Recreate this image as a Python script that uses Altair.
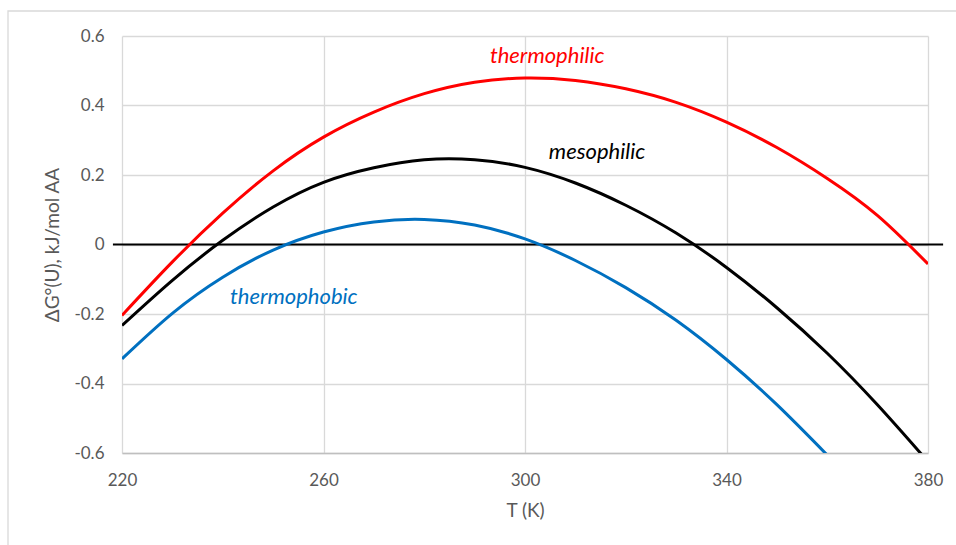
import altair as alt
import pandas as pd

# ---- data ----
T = [220, 230, 240, 250, 260, 270, 280, 290, 300, 310, 320, 330, 340, 350, 360, 370, 380]
thermophilic = [-0.204, -0.050, 0.090, 0.212, 0.309, 0.381, 0.434, 0.467, 0.479, 0.472,
                0.448, 0.409, 0.352, 0.279, 0.190, 0.083, -0.056]
mesophilic = [-0.233, -0.103, 0.012, 0.108, 0.179, 0.221, 0.244, 0.244, 0.222, 0.177,
              0.113, 0.033, -0.066, -0.182, -0.313, -0.462, -0.625]
T_phobic = [220, 230, 240, 250, 260, 270, 280, 290, 300, 310, 320, 330, 340, 350, 360]
thermophobic = [-0.329, -0.198, -0.094, -0.016, 0.036, 0.065, 0.072, 0.056, 0.016, -0.046,
                -0.124, -0.218, -0.331, -0.461, -0.606]

zero_T = [218.2, 383.0]
zero_G = [0.0, 0.0]

label_text = ["thermophilic", "mesophilic", "thermophobic"]
label_T = [304.4, 314.3, 254.1]
label_G = [0.521, 0.245, -0.170]

series_names = ["thermophilic", "mesophilic", "thermophobic"]
series_colors = ["#ff0000", "#000000", "#0070c0"]

x_ticks = [220, 260, 300, 340, 380]
y_ticks = [-0.6, -0.4, -0.2, 0, 0.2, 0.4, 0.6]

# ---- tables ----
rows = []
for t, g in zip(T, thermophilic):
    rows.append({"series": "thermophilic", "T": t, "G": g})
for t, g in zip(T, mesophilic):
    rows.append({"series": "mesophilic", "T": t, "G": g})
for t, g in zip(T_phobic, thermophobic):
    rows.append({"series": "thermophobic", "T": t, "G": g})
df = pd.DataFrame(rows)
zero_df = pd.DataFrame({"T": zero_T, "G": zero_G})
lab_df = pd.DataFrame({"series": label_text, "T": label_T, "G": label_G})

FONT = "Lato"
GREY = "#595959"

xscale = alt.Scale(domain=[220, 380], nice=False, zero=False)
yscale = alt.Scale(domain=[-0.6, 0.6], nice=False, zero=False)
cscale = alt.Scale(domain=series_names, range=series_colors)

xaxis = alt.Axis(values=x_ticks, grid=True, gridColor="#d9d9d9", gridWidth=1.3,
                 ticks=False, domainColor="#bfbfbf", domainWidth=1.3, labelFlush=False,
                 labelFont=FONT, labelFontSize=17, labelColor=GREY, labelPadding=19,
                 title="T (K)", titleFont=FONT, titleFontSize=19, titleFontWeight="normal",
                 titleColor=GREY, titlePadding=13)
yaxis = alt.Axis(values=y_ticks, grid=True, gridColor="#d9d9d9", gridWidth=1.3,
                 ticks=False, domain=False,
                 labelFont=FONT, labelFontSize=17, labelColor=GREY, labelPadding=18,
                 labelExpr="datum.value == 0 ? '0' : replace(format(datum.value, '.1f'), '\u2212', '-')",
                 title="\u0394G\u00b0(U), kJ/mol AA", titleFont=FONT, titleFontSize=19,
                 titleFontWeight="normal", titleColor=GREY, titlePadding=11)

frame = alt.Chart(pd.DataFrame({"a": [0]})).mark_rect(
    fill=None, stroke="#d9d9d9", strokeWidth=1.3, clip=False
).encode(x=alt.value(-114), x2=alt.value(900), y=alt.value(-25), y2=alt.value(600))

zero = alt.Chart(zero_df).mark_line(color="#000000", strokeWidth=2.2, clip=False).encode(
    x=alt.X("T:Q", scale=xscale, axis=xaxis),
    y=alt.Y("G:Q", scale=yscale, axis=yaxis),
)

lines = alt.Chart(df).mark_line(strokeWidth=3, interpolate="natural", clip=True).encode(
    x=alt.X("T:Q", scale=xscale),
    y=alt.Y("G:Q", scale=yscale),
    color=alt.Color("series:N", scale=cscale, legend=None),
)

labels = alt.Chart(lab_df).mark_text(
    font=FONT, fontSize=22, fontStyle="italic", align="center", baseline="alphabetic"
).encode(
    x=alt.X("T:Q", scale=xscale),
    y=alt.Y("G:Q", scale=yscale),
    text="series:N",
    color=alt.Color("series:N", scale=cscale, legend=None),
)

chart = alt.layer(frame, zero, lines, labels).properties(
    width=806, height=417,
    autosize=alt.AutoSizeParams(type="none"),
    padding={"left": 122, "top": 36, "right": 28, "bottom": 92},
    background="#ffffff",
).configure_view(stroke=None)

chart.save("out.html", embed_options={"renderer": "svg", "actions": False})
